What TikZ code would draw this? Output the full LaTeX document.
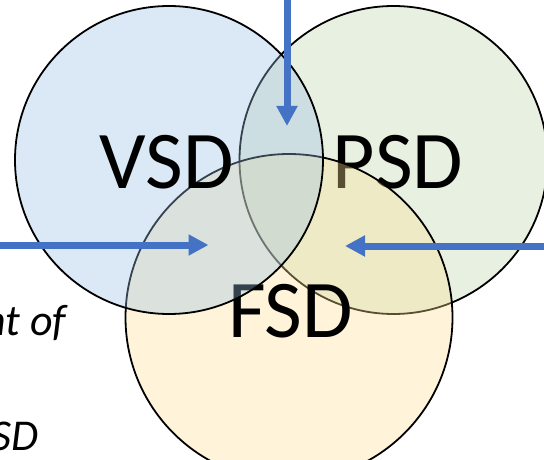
\documentclass[tikz,border=0pt]{standalone}
\usepackage{fontspec}
\setmainfont{Carlito}
\usetikzlibrary{arrows.meta}

\definecolor{vsdfill}{RGB}{152,190,226}
\definecolor{psdfill}{RGB}{189,212,172}
\definecolor{fsdfill}{RGB}{255,224,146}
\definecolor{arrowblue}{RGB}{68,114,196}

\tikzset{
  setcircle/.style={circle, draw=black, line width=1.8pt, fill opacity=0.35,
    inner sep=0pt, minimum size=#1},
  setname/.style={inner sep=0pt, text=black,
    font=\fontsize{82}{90}\selectfont},
  pointer/.style={draw=arrowblue, line width=7pt,
    -{Triangle[length=20pt,width=20pt]}},
  sidenote/.style={inner sep=0pt, anchor=base west,
    font=\fontsize{44}{50}\selectfont\itshape}
}

\begin{document}
\begin{tikzpicture}[x=1pt,y=-1pt]
  \useasboundingbox (0,0) rectangle (544,460);
  \clip (0,0) rectangle (544,460);

  % side notes, partly cut by the left margin
  \node[sidenote] (noteA) at (-17,335) {nt of};
  \node[sidenote] (noteB) at (-9,450) {SD};

  % the three sets, back to front
  \node[setcircle=308pt, fill=psdfill] (psd) at (393.5,160) {};
  \node[setname] (psdname) at (398,162) {PSD};

  \node[setcircle=327pt, fill=fsdfill] (fsd) at (289,317.5) {};
  \node[setname] (fsdname) at (290.5,311.5) {FSD};

  \node[setcircle=308pt, fill=vsdfill] (vsd) at (169,160) {};
  \node[setname] (vsdname) at (167,162) {VSD};

  % pointers into the overlaps
  \coordinate (topIn) at (287,0);
  \coordinate (topTip) at (287,126);
  \coordinate (leftIn) at (0,245);
  \coordinate (leftTip) at (208.5,245);
  \coordinate (rightIn) at (544,246);
  \coordinate (rightTip) at (345,246);

  \draw[pointer] (topIn) -- (topTip);
  \draw[pointer] (leftIn) -- (leftTip);
  \draw[pointer] (rightIn) -- (rightTip);
\end{tikzpicture}
\end{document}
